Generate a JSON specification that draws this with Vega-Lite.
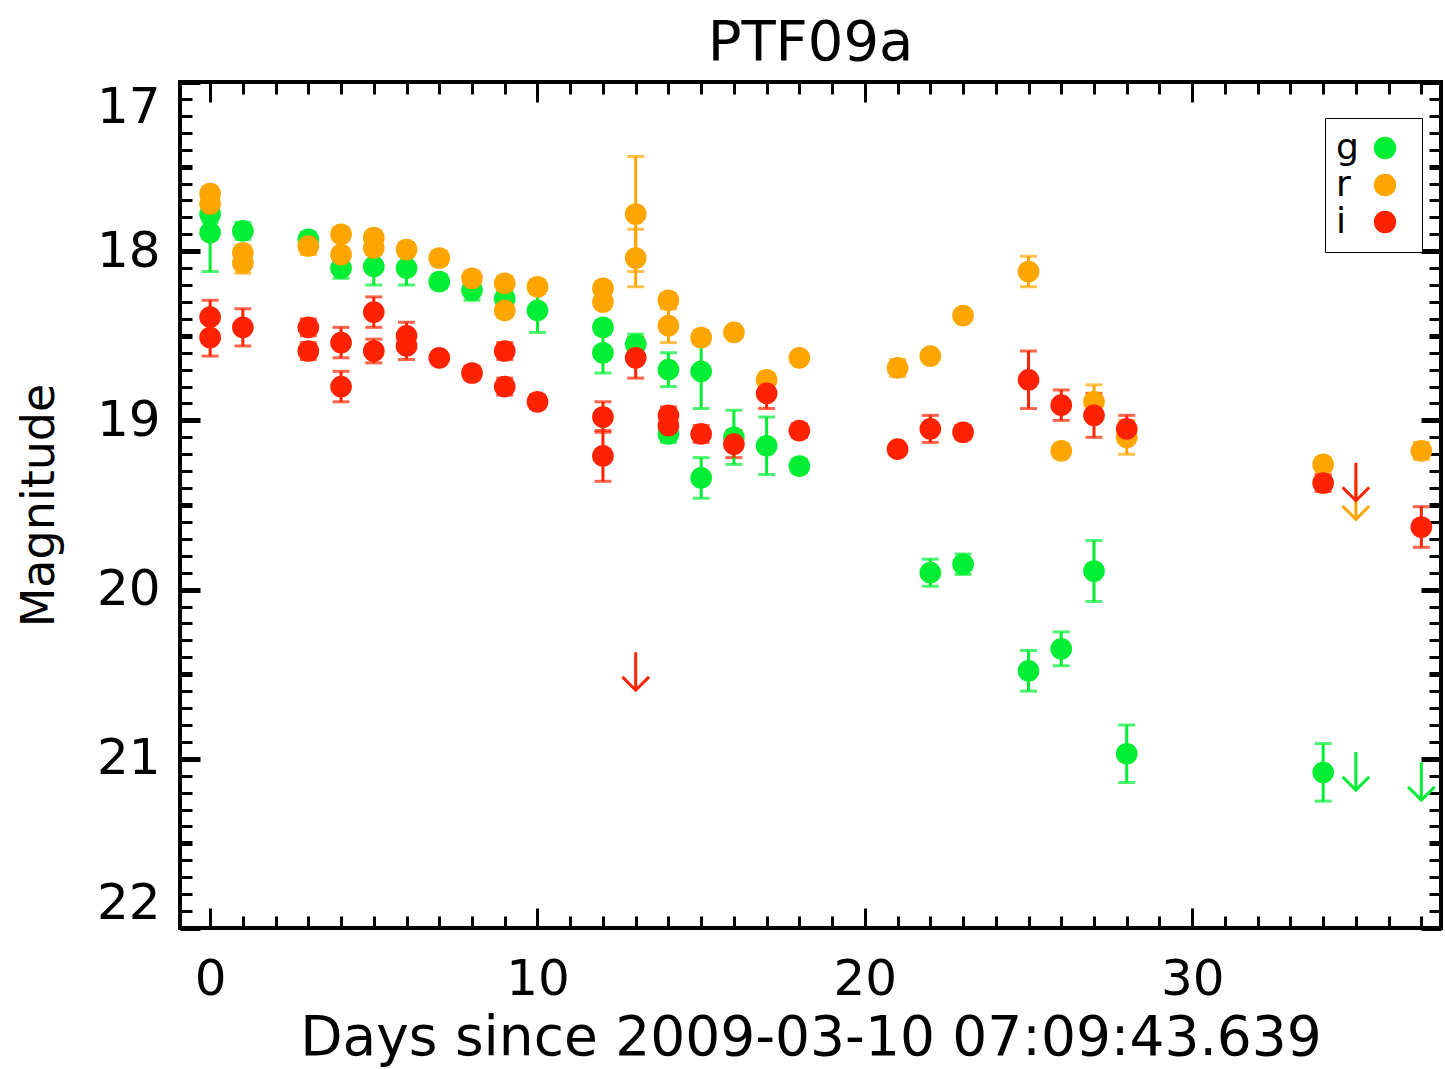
{
  "$schema": "https://vega.github.io/schema/vega-lite/v6.json",
  "autosize": "none",
  "width": 1261,
  "height": 846,
  "padding": {"left": 180, "top": 82, "right": 4, "bottom": 141},
  "background": "white",
  "view": {"stroke": "black", "strokeWidth": 4, "fill": "white"},
  "title": {"text": "PTF09a", "font": "DejaVu Sans", "fontSize": 56, "fontWeight": "normal", "color": "black", "anchor": "middle", "baseline": "alphabetic", "offset": 0, "dy": 36},
  "config": {
    "font": "DejaVu Sans",
    "axis": {"domain": false, "grid": false, "tickColor": "black", "labelColor": "black", "titleColor": "black", "labelFont": "DejaVu Sans", "titleFont": "DejaVu Sans", "labelFontWeight": "normal", "titleFontWeight": "normal"}
  },
  "datasets": {
    "det": [
      {"day": 0, "band": "g", "mag": 17.78, "err": 0.05},
      {"day": 0, "band": "g", "mag": 17.89, "err": 0.23},
      {"day": 1, "band": "g", "mag": 17.88, "err": 0.05},
      {"day": 3, "band": "g", "mag": 17.93, "err": 0.04},
      {"day": 4, "band": "g", "mag": 18.10, "err": 0.06},
      {"day": 5, "band": "g", "mag": 18.09, "err": 0.11},
      {"day": 6, "band": "g", "mag": 18.10, "err": 0.10},
      {"day": 7, "band": "g", "mag": 18.18, "err": 0.04},
      {"day": 8, "band": "g", "mag": 18.23, "err": 0.06},
      {"day": 9, "band": "g", "mag": 18.28, "err": 0.04},
      {"day": 10, "band": "g", "mag": 18.35, "err": 0.13},
      {"day": 12, "band": "g", "mag": 18.45, "err": 0.04},
      {"day": 12, "band": "g", "mag": 18.60, "err": 0.12},
      {"day": 13, "band": "g", "mag": 18.55, "err": 0.06},
      {"day": 14, "band": "g", "mag": 18.70, "err": 0.10},
      {"day": 14, "band": "g", "mag": 19.08, "err": 0.05},
      {"day": 15, "band": "g", "mag": 18.71, "err": 0.22},
      {"day": 15, "band": "g", "mag": 19.34, "err": 0.12},
      {"day": 16, "band": "g", "mag": 19.10, "err": 0.16},
      {"day": 17, "band": "g", "mag": 19.15, "err": 0.17},
      {"day": 18, "band": "g", "mag": 19.27, "err": 0.04},
      {"day": 22, "band": "g", "mag": 19.90, "err": 0.08},
      {"day": 23, "band": "g", "mag": 19.85, "err": 0.06},
      {"day": 25, "band": "g", "mag": 20.48, "err": 0.12},
      {"day": 26, "band": "g", "mag": 20.35, "err": 0.10},
      {"day": 27, "band": "g", "mag": 19.89, "err": 0.18},
      {"day": 28, "band": "g", "mag": 20.97, "err": 0.17},
      {"day": 34, "band": "g", "mag": 21.08, "err": 0.17},
      {"day": 0, "band": "r", "mag": 17.66, "err": 0.04},
      {"day": 0, "band": "r", "mag": 17.72, "err": 0.04},
      {"day": 1, "band": "r", "mag": 18.01, "err": 0.04},
      {"day": 1, "band": "r", "mag": 18.07, "err": 0.06},
      {"day": 3, "band": "r", "mag": 17.97, "err": 0.05},
      {"day": 4, "band": "r", "mag": 17.90, "err": 0.04},
      {"day": 4, "band": "r", "mag": 18.02, "err": 0.04},
      {"day": 5, "band": "r", "mag": 17.92, "err": 0.04},
      {"day": 5, "band": "r", "mag": 17.98, "err": 0.04},
      {"day": 6, "band": "r", "mag": 17.99, "err": 0.04},
      {"day": 7, "band": "r", "mag": 18.04, "err": 0.04},
      {"day": 8, "band": "r", "mag": 18.16, "err": 0.04},
      {"day": 9, "band": "r", "mag": 18.19, "err": 0.04},
      {"day": 9, "band": "r", "mag": 18.35, "err": 0.04},
      {"day": 10, "band": "r", "mag": 18.21, "err": 0.04},
      {"day": 12, "band": "r", "mag": 18.22, "err": 0.04},
      {"day": 12, "band": "r", "mag": 18.30, "err": 0.04},
      {"day": 13, "band": "r", "mag": 17.78, "err": 0.34},
      {"day": 13, "band": "r", "mag": 18.04, "err": 0.17},
      {"day": 14, "band": "r", "mag": 18.29, "err": 0.04},
      {"day": 14, "band": "r", "mag": 18.44, "err": 0.10},
      {"day": 15, "band": "r", "mag": 18.51, "err": 0.04},
      {"day": 16, "band": "r", "mag": 18.48, "err": 0.03},
      {"day": 17, "band": "r", "mag": 18.76, "err": 0.04},
      {"day": 18, "band": "r", "mag": 18.63, "err": 0.03},
      {"day": 21, "band": "r", "mag": 18.69, "err": 0.05},
      {"day": 22, "band": "r", "mag": 18.62, "err": 0.03},
      {"day": 23, "band": "r", "mag": 18.38, "err": 0.03},
      {"day": 25, "band": "r", "mag": 18.12, "err": 0.09},
      {"day": 26, "band": "r", "mag": 19.18, "err": 0.04},
      {"day": 27, "band": "r", "mag": 18.89, "err": 0.10},
      {"day": 28, "band": "r", "mag": 19.10, "err": 0.10},
      {"day": 34, "band": "r", "mag": 19.26, "err": 0.04},
      {"day": 37, "band": "r", "mag": 19.18, "err": 0.05},
      {"day": 0, "band": "i", "mag": 18.39, "err": 0.10},
      {"day": 0, "band": "i", "mag": 18.51, "err": 0.11},
      {"day": 1, "band": "i", "mag": 18.45, "err": 0.11},
      {"day": 3, "band": "i", "mag": 18.45, "err": 0.05},
      {"day": 3, "band": "i", "mag": 18.59, "err": 0.05},
      {"day": 4, "band": "i", "mag": 18.54, "err": 0.09},
      {"day": 4, "band": "i", "mag": 18.80, "err": 0.09},
      {"day": 5, "band": "i", "mag": 18.36, "err": 0.09},
      {"day": 5, "band": "i", "mag": 18.59, "err": 0.07},
      {"day": 6, "band": "i", "mag": 18.50, "err": 0.08},
      {"day": 6, "band": "i", "mag": 18.56, "err": 0.08},
      {"day": 7, "band": "i", "mag": 18.63, "err": 0.03},
      {"day": 8, "band": "i", "mag": 18.72, "err": 0.04},
      {"day": 9, "band": "i", "mag": 18.59, "err": 0.05},
      {"day": 9, "band": "i", "mag": 18.80, "err": 0.05},
      {"day": 10, "band": "i", "mag": 18.89, "err": 0.04},
      {"day": 12, "band": "i", "mag": 18.98, "err": 0.09},
      {"day": 12, "band": "i", "mag": 19.21, "err": 0.15},
      {"day": 13, "band": "i", "mag": 18.63, "err": 0.12},
      {"day": 14, "band": "i", "mag": 18.97, "err": 0.05},
      {"day": 14, "band": "i", "mag": 19.03, "err": 0.08},
      {"day": 15, "band": "i", "mag": 19.08, "err": 0.05},
      {"day": 16, "band": "i", "mag": 19.14, "err": 0.08},
      {"day": 17, "band": "i", "mag": 18.84, "err": 0.09},
      {"day": 18, "band": "i", "mag": 19.06, "err": 0.04},
      {"day": 21, "band": "i", "mag": 19.17, "err": 0.03},
      {"day": 22, "band": "i", "mag": 19.05, "err": 0.08},
      {"day": 23, "band": "i", "mag": 19.07, "err": 0.04},
      {"day": 25, "band": "i", "mag": 18.76, "err": 0.17},
      {"day": 26, "band": "i", "mag": 18.91, "err": 0.09},
      {"day": 27, "band": "i", "mag": 18.97, "err": 0.13},
      {"day": 28, "band": "i", "mag": 19.05, "err": 0.08},
      {"day": 34, "band": "i", "mag": 19.37, "err": 0.05},
      {"day": 37, "band": "i", "mag": 19.63, "err": 0.12}
    ],
    "lim": [
      {"day": 35, "band": "g", "lim": 20.96},
      {"day": 37, "band": "g", "lim": 21.02},
      {"day": 35, "band": "r", "lim": 19.36},
      {"day": 13, "band": "i", "lim": 20.37},
      {"day": 35, "band": "i", "lim": 19.25}
    ]
  },
  "resolve": {"axis": {"x": "independent", "y": "independent"}, "legend": {"color": "independent"}},
  "layer": [
    {
      "data": {"name": "det"},
      "mark": {"type": "errorbar", "ticks": {"size": 17, "thickness": 3}, "rule": {"strokeWidth": 3}},
      "encoding": {
        "x": {"field": "day", "type": "quantitative",
              "scale": {"domain": [-0.92, 37.6], "nice": false, "zero": false},
              "axis": {"orient": "bottom", "title": "Days since 2009-03-10 07:09:43.639", "titleFontSize": 55, "titlePadding": 7,
                       "values": [0,1,2,3,4,5,6,7,8,9,10,11,12,13,14,15,16,17,18,19,20,21,22,23,24,25,26,27,28,29,30,31,32,33,34,35,36,37],
                       "labelExpr": "datum.value % 10 === 0 ? datum.label : ''", "labelFontSize": 50, "labelPadding": 46, "labelBaseline": "top",
                       "tickWidth": 3, "tickSize": {"condition": {"test": "datum.value % 10 === 0", "value": -20}, "value": -12}}},
        "y": {"field": "mag", "type": "quantitative",
              "scale": {"domain": [17, 22], "reverse": true, "nice": false, "zero": false},
              "axis": {"orient": "left", "title": "Magnitude", "titleFontSize": 46, "titlePadding": 33,
                       "values": [17,17.1,17.2,17.3,17.4,17.5,17.6,17.7,17.8,17.9,18,18.1,18.2,18.3,18.4,18.5,18.6,18.7,18.8,18.9,19,19.1,19.2,19.3,19.4,19.5,19.6,19.7,19.8,19.9,20,20.1,20.2,20.3,20.4,20.5,20.6,20.7,20.8,20.9,21,21.1,21.2,21.3,21.4,21.5,21.6,21.7,21.8,21.9,22],
                       "labelExpr": "abs(datum.value - round(datum.value)) < 0.001 ? format(datum.value, 'd') : ''", "labelFontSize": 50, "labelPadding": 40, "labelFlush": true,
                       "tickWidth": {"condition": {"test": "abs(datum.value*2 - round(datum.value*2)) < 0.001", "value": 5}, "value": 3},
                       "tickSize": {"condition": {"test": "abs(datum.value - round(datum.value)) < 0.001", "value": -20}, "value": -12}}},
        "yError": {"field": "err"},
        "color": {"field": "band", "type": "nominal", "scale": {"domain": ["g", "r", "i"], "range": ["#00ee33", "#ffa500", "#ff2200"]}, "legend": null}
      }
    },
    {
      "data": {"name": "det"},
      "mark": {"type": "point", "filled": true, "opacity": 1, "size": 470, "shape": "circle"},
      "encoding": {
        "x": {"field": "day", "type": "quantitative", "axis": null},
        "y": {"field": "mag", "type": "quantitative", "axis": null},
        "color": {"field": "band", "type": "nominal", "scale": {"domain": ["g", "r", "i"], "range": ["#00ee33", "#ffa500", "#ff2200"]},
                  "legend": {"orient": "none", "legendX": 1145, "legendY": 36, "title": "\u00a0", "titleOrient": "right", "titlePadding": 14, "titleFontSize": 10, "direction": "vertical",
                             "symbolType": "circle", "symbolSize": 500, "symbolStrokeWidth": 0, "symbolOffset": 30,
                             "labelFont": "DejaVu Sans", "labelFontSize": 36, "labelColor": "black", "labelOffset": -67,
                             "rowPadding": 1, "padding": 12, "strokeColor": "black", "fillColor": "white",
                             "encode": {"legend": {"update": {"strokeWidth": {"value": 3}}}}}}
      }
    },
    {
      "data": {"name": "lim"},
      "mark": {"type": "point", "filled": false, "strokeWidth": 3, "size": 1444, "shape": "M0,0 L0,2 M-0.7,1.3 L0,2 L0.7,1.3", "opacity": 1},
      "encoding": {
        "x": {"field": "day", "type": "quantitative",
              "axis": {"orient": "top", "title": null, "labels": false,
                       "values": [0,1,2,3,4,5,6,7,8,9,10,11,12,13,14,15,16,17,18,19,20,21,22,23,24,25,26,27,28,29,30,31,32,33,34,35,36,37],
                       "tickWidth": 3, "tickSize": {"condition": {"test": "datum.value % 10 === 0", "value": -20}, "value": -12}}},
        "y": {"field": "lim", "type": "quantitative",
              "axis": {"orient": "right", "title": null, "labels": false,
                       "values": [17,17.1,17.2,17.3,17.4,17.5,17.6,17.7,17.8,17.9,18,18.1,18.2,18.3,18.4,18.5,18.6,18.7,18.8,18.9,19,19.1,19.2,19.3,19.4,19.5,19.6,19.7,19.8,19.9,20,20.1,20.2,20.3,20.4,20.5,20.6,20.7,20.8,20.9,21,21.1,21.2,21.3,21.4,21.5,21.6,21.7,21.8,21.9,22],
                       "tickWidth": {"condition": {"test": "abs(datum.value*2 - round(datum.value*2)) < 0.001", "value": 5}, "value": 3},
                       "tickSize": {"condition": {"test": "abs(datum.value - round(datum.value)) < 0.001", "value": -20}, "value": -12}}},
        "color": {"field": "band", "type": "nominal", "scale": {"domain": ["g", "r", "i"], "range": ["#00ee33", "#ffa500", "#ff2200"]}, "legend": null}
      }
    }
  ]
}
